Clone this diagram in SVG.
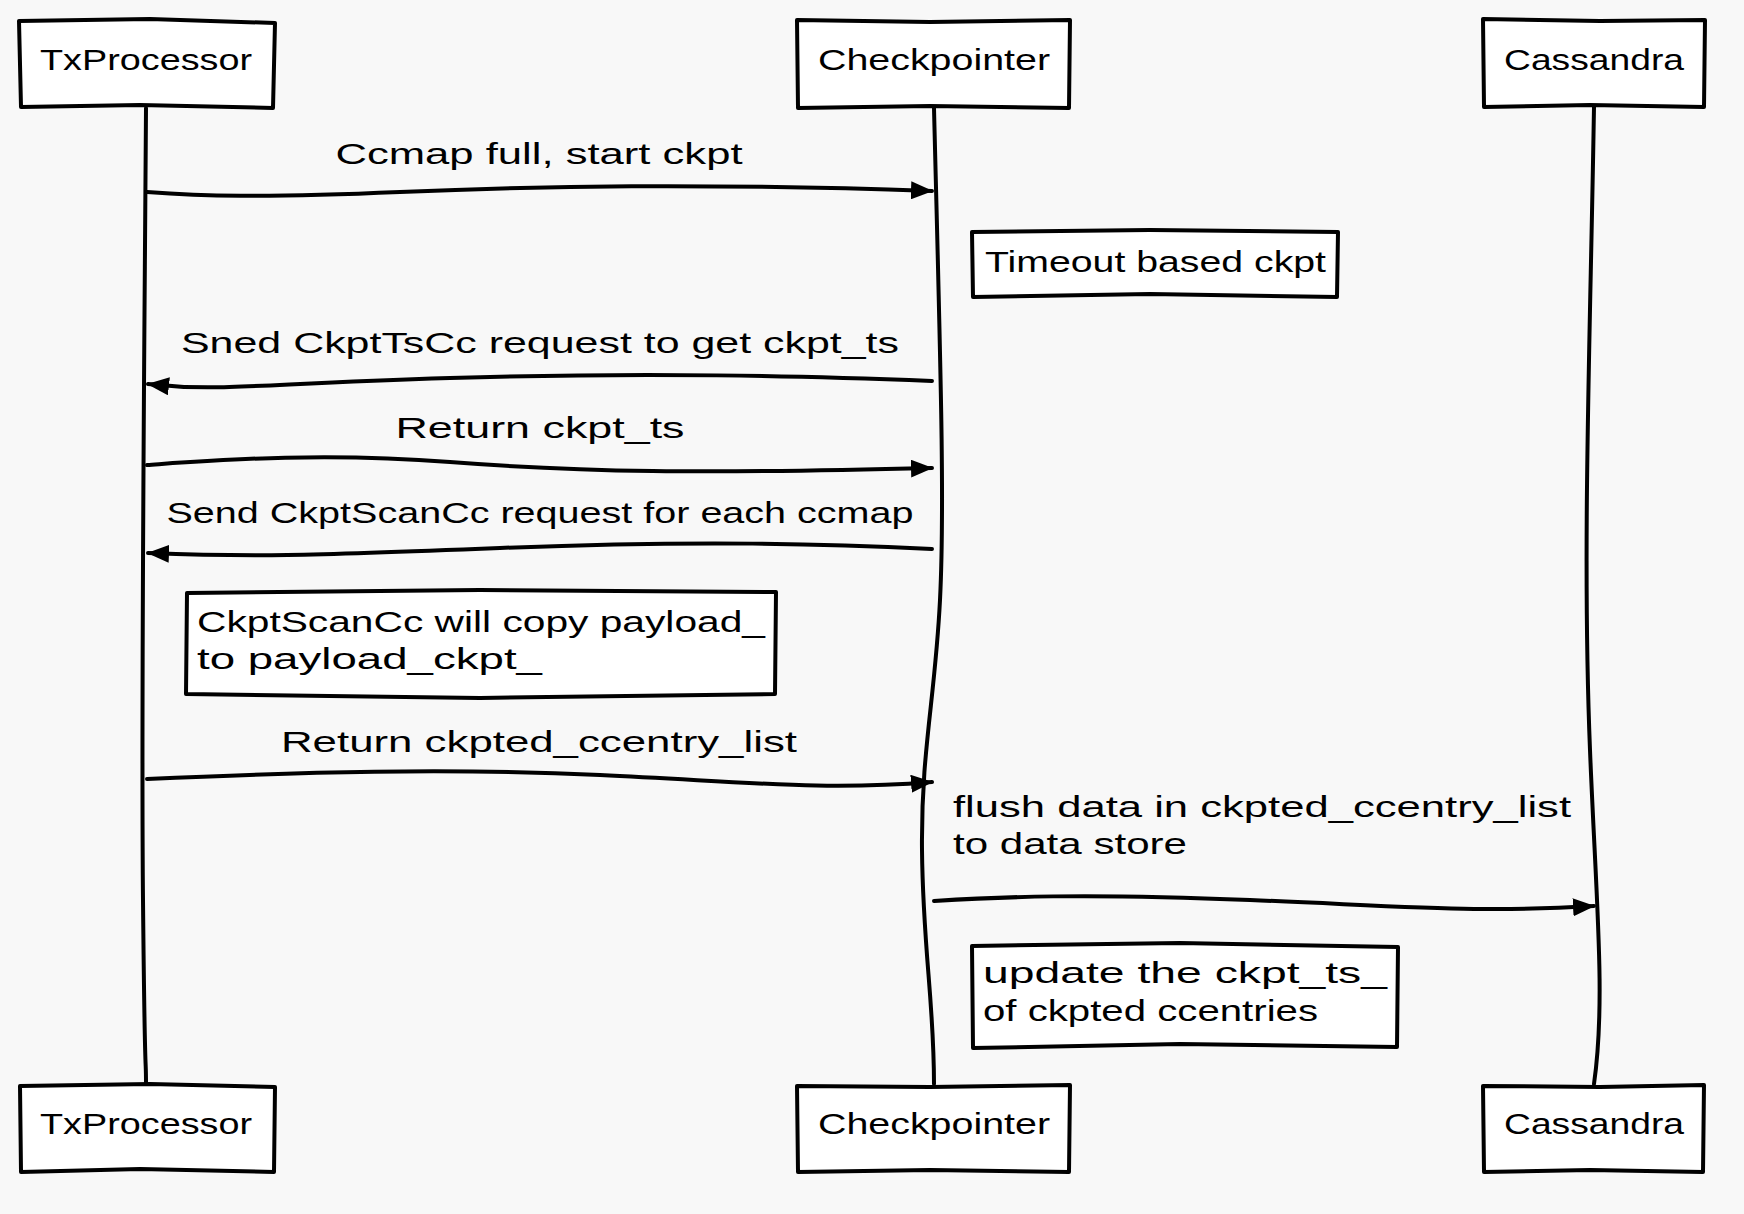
<svg xmlns="http://www.w3.org/2000/svg" width="1744" height="1214" viewBox="0 0 1744 1214">
<style>
.box{fill:#ffffff;stroke:#000;stroke-width:4;stroke-linejoin:round}
.line{fill:none;stroke:#000;stroke-width:4;stroke-linecap:round}
.msg{fill:none;stroke:#000;stroke-width:4;stroke-linecap:round;marker-end:url(#ah)}
text{font-family:"Liberation Sans","DejaVu Sans",sans-serif;font-size:30px;fill:#000}
</style>
<defs>
<marker id="ah" viewBox="0 0 22 18" refX="21" refY="9" markerWidth="22" markerHeight="18" markerUnits="userSpaceOnUse" orient="auto">
<path d="M0,0 L22,9 L0,18 Z" fill="#000"/>
</marker>
</defs>
<rect width="1744" height="1214" fill="#f8f8f8"/>

<g id="lifelines">
<path class="line" d="M146,108 C144,400 141,700 143,900 S146,1050 146,1084"/>
<path class="line" d="M934,108 C940,350 945,500 940,600 S921,750 922,850 S934,1000 934,1084"/>
<path class="line" d="M1594,107 C1590,350 1582,550 1590,750 C1596,900 1606,1000 1594,1084"/>
</g>

<g id="connectors">
<path class="msg" d="M147,192 C200,196 260,198 400,192 S700,183 932,191"/>
<path class="msg" d="M932,381 C800,376 650,372 450,378 S220,392 148,384"/>
<path class="msg" d="M147,465 C220,460 320,452 450,462 S700,474 932,468"/>
<path class="msg" d="M932,549 C830,544 700,540 500,548 S250,557 148,553"/>
<path class="msg" d="M147,779 C300,772 450,768 600,775 S820,791 932,782"/>
<path class="msg" d="M934,901 C1000,897 1080,893 1250,900 S1480,913 1594,906"/>
</g>

<g id="p-txprocessor-top">
<path class="box" d="M19,21 L150,19 L275,23 L273,108 L140,105 L21,107 Z"/>
<text x="146" y="70" text-anchor="middle" textLength="212" lengthAdjust="spacingAndGlyphs">TxProcessor</text>
</g>
<g id="p-checkpointer-top">
<path class="box" d="M797,20 L930,22 L1070,20 L1069,108 L930,106 L798,108 Z"/>
<text x="934" y="70" text-anchor="middle" textLength="232" lengthAdjust="spacingAndGlyphs">Checkpointer</text>
</g>
<g id="p-cassandra-top">
<path class="box" d="M1483,19 L1600,21 L1705,20 L1704,107 L1590,105 L1484,107 Z"/>
<text x="1594" y="70" text-anchor="middle" textLength="180" lengthAdjust="spacingAndGlyphs">Cassandra</text>
</g>

<g id="p-txprocessor-bottom">
<path class="box" d="M20,1086 L150,1084 L275,1087 L274,1172 L140,1169 L21,1172 Z"/>
<text x="146" y="1134" text-anchor="middle" textLength="212" lengthAdjust="spacingAndGlyphs">TxProcessor</text>
</g>
<g id="p-checkpointer-bottom">
<path class="box" d="M797,1086 L930,1087 L1070,1085 L1069,1172 L930,1170 L798,1172 Z"/>
<text x="934" y="1134" text-anchor="middle" textLength="232" lengthAdjust="spacingAndGlyphs">Checkpointer</text>
</g>
<g id="p-cassandra-bottom">
<path class="box" d="M1483,1086 L1600,1087 L1704,1085 L1703,1172 L1590,1170 L1484,1172 Z"/>
<text x="1594" y="1134" text-anchor="middle" textLength="180" lengthAdjust="spacingAndGlyphs">Cassandra</text>
</g>

<g id="m1-label"><text x="539" y="164" text-anchor="middle" textLength="407" lengthAdjust="spacingAndGlyphs">Ccmap full, start ckpt</text></g>

<g id="note-timeout">
<path class="box" d="M972,232 L1150,230 L1338,232 L1337,297 L1150,294 L973,297 Z"/>
<text x="985" y="272" textLength="341" lengthAdjust="spacingAndGlyphs">Timeout based ckpt</text>
</g>

<g id="m2-label"><text x="540" y="353" text-anchor="middle" textLength="718" lengthAdjust="spacingAndGlyphs">Sned CkptTsCc request to get ckpt_ts</text></g>
<g id="m3-label"><text x="540" y="438" text-anchor="middle" textLength="289" lengthAdjust="spacingAndGlyphs">Return ckpt_ts</text></g>
<g id="m4-label"><text x="540" y="523" text-anchor="middle" textLength="747" lengthAdjust="spacingAndGlyphs">Send CkptScanCc request for each ccmap</text></g>

<g id="note-scan">
<path class="box" d="M187,593 L480,590 L776,592 L775,694 L480,698 L186,694 Z"/>
<text x="197" y="632" textLength="568" lengthAdjust="spacingAndGlyphs">CkptScanCc will copy payload_</text>
<text x="197" y="669" textLength="345" lengthAdjust="spacingAndGlyphs">to payload_ckpt_</text>
</g>

<g id="m5-label"><text x="539" y="752" text-anchor="middle" textLength="516" lengthAdjust="spacingAndGlyphs">Return ckpted_ccentry_list</text></g>

<g id="m6-label">
<text x="953" y="817" textLength="618" lengthAdjust="spacingAndGlyphs">flush data in ckpted_ccentry_list</text>
<text x="953" y="854" textLength="234" lengthAdjust="spacingAndGlyphs">to data store</text>
</g>

<g id="note-update">
<path class="box" d="M972,946 L1180,943 L1398,947 L1397,1047 L1180,1044 L973,1048 Z"/>
<text x="983" y="983" textLength="404" lengthAdjust="spacingAndGlyphs">update the ckpt_ts_</text>
<text x="983" y="1021" textLength="335" lengthAdjust="spacingAndGlyphs">of ckpted ccentries</text>
</g>
</svg>
